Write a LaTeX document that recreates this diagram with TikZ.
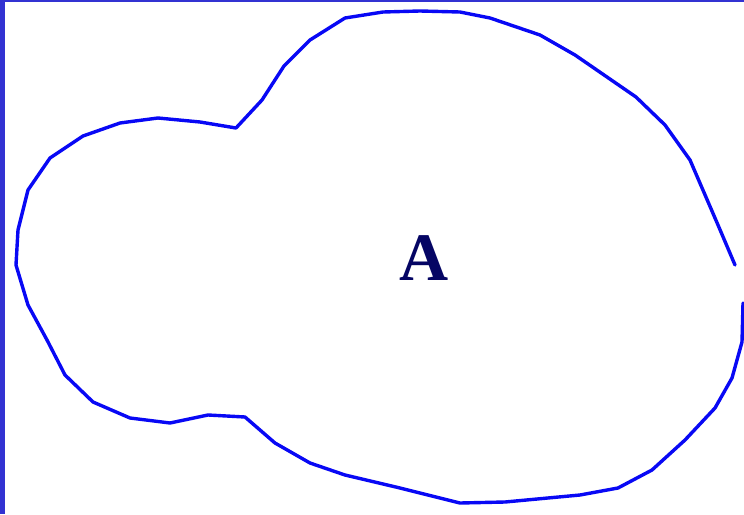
\documentclass[tikz,border=0pt]{standalone}
\usepackage{fontspec}
\newfontfamily\lblfont{Liberation Serif}
\usetikzlibrary{positioning}
\definecolor{edgeblue}{RGB}{50,50,210}
\definecolor{curveblue}{RGB}{8,8,245}
\definecolor{lblnavy}{RGB}{5,5,100}

\begin{document}
\begin{tikzpicture}[x=1pt, y=-1pt,
  frame/.style={fill=edgeblue, draw=none},
  outline/.style={draw=curveblue, line width=3.4pt, line join=round, line cap=round},
  regionlbl/.style={font=\lblfont\bfseries\fontsize{68}{68}\selectfont, text=lblnavy, inner sep=0pt}
]
\useasboundingbox[fill=white] (0,0) rectangle (744,514);
% frame edges
\fill[frame] (0,0) rectangle (5,514);
\fill[frame] (0,0) rectangle (744,1.5);

% region outline
\draw[outline] (735,265) -- (718,225) -- (690,160) -- (665,125) -- (636,97)
  -- (575,55) -- (540,35) -- (490,18) -- (460,12) -- (420,11) -- (383,12)
  -- (345,18) -- (310,40) -- (284,66) -- (262,100) -- (236,128) -- (200,122)
  -- (158,118) -- (120,123) -- (83,136) -- (50,158) -- (28,190) -- (18,230)
  -- (16,265) -- (28,305) -- (47,340) -- (65,375) -- (93,402) -- (130,418)
  -- (170,423) -- (208,415) -- (245,417) -- (275,443) -- (310,463)
  -- (345,475) -- (400,488) -- (460,503) -- (505,502) -- (580,495)
  -- (618,488) -- (652,470) -- (685,440) -- (715,408) -- (732,378)
  -- (742,342) -- (743,303);

\node[regionlbl] (A) at (424,258) {A};
\end{tikzpicture}
\end{document}
